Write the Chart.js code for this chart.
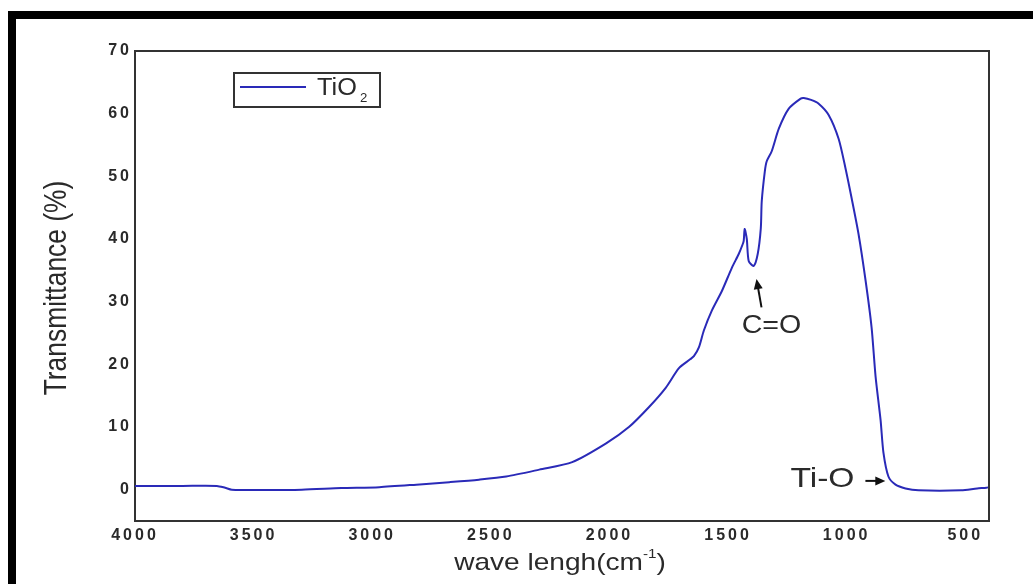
<!DOCTYPE html>
<html>
<head>
<meta charset="utf-8">
<script src="https://cdn.jsdelivr.net/npm/chart.js@4"></script>
<style>
  html, body { margin: 0; padding: 0; background: #fff; }
  #wrap { position: relative; width: 1033px; height: 584px; }
</style>
</head>
<body>
<div id="wrap"><canvas id="c" width="1033" height="584"></canvas></div>
<script>
// ---- data ----
const wavenumbers = [4000, 3800, 3655, 3620, 3592, 3450, 3297, 3130, 2970, 2814, 2675, 2550, 2435, 2296, 2157, 2014, 1918, 1833, 1762, 1707, 1660, 1644, 1623, 1602, 1568, 1526, 1484, 1455, 1440, 1434, 1430, 1421, 1413, 1392, 1375, 1362, 1358, 1345, 1337, 1316, 1286, 1244, 1194, 1181, 1150, 1118, 1076, 1034, 1005, 979, 950, 920, 895, 878, 857, 845, 824, 794, 752, 697, 517, 450, 411, 400];
const transmittance = [0.6, 0.6, 0.6, 0.3, 0.0, -0.05, 0.0, 0.25, 0.4, 0.8, 1.2, 1.6, 2.1, 3.2, 4.4, 7.4, 10.0, 13.2, 16.3, 19.4, 20.8, 21.3, 22.7, 25.4, 28.6, 31.7, 35.4, 37.6, 39.0, 39.7, 41.6, 40.0, 36.5, 35.7, 37.6, 41.7, 46.0, 50.8, 52.4, 54.0, 57.6, 60.8, 62.4, 62.5, 62.2, 61.6, 59.8, 56.0, 51.3, 46.5, 40.8, 33.3, 25.9, 18.0, 11.1, 5.9, 2.1, 0.8, 0.2, -0.1, -0.1, 0.2, 0.3, 0.4];
const xTickValues = [500, 1000, 1500, 2000, 2500, 3000, 3500, 4000];
const yTickValues = [0, 10, 20, 30, 40, 50, 60, 70];
const seriesName = 'TiO';
const seriesSub = '2';
const xTitle = 'wave lengh(cm';
const xTitleSup = '-1';
const yTitle = 'Transmittance (%)';
// annotation anchors in data coordinates
const coLabel = { text: 'C=O', x: 1317, y: 26.1, tail: [1359, 29.1], head: [1380, 33.6] };
const tioLabel = { text: 'Ti-O', x: 1102, y: 1.7, tail: [921, 1.4], head: [837, 1.4] };

const LINE_COLOR = '#2a2ab8';
const TEXT_COLOR = '#2a2a2a';

function drawStretched(ctx, parts, cx, cy, sx, sy, rot) {
  ctx.save();
  ctx.translate(cx, cy);
  if (rot) ctx.rotate(rot);
  ctx.scale(sx, sy);
  let total = 0;
  for (const p of parts) { ctx.font = p.font; total += ctx.measureText(p.t).width; }
  let x = -total / 2;
  ctx.textBaseline = 'middle';
  ctx.textAlign = 'left';
  ctx.fillStyle = TEXT_COLOR;
  for (const p of parts) {
    ctx.font = p.font;
    ctx.fillText(p.t, x, p.dy || 0);
    x += ctx.measureText(p.t).width;
  }
  ctx.restore();
}

function arrow(ctx, x1, y1, x2, y2) {
  const ang = Math.atan2(y2 - y1, x2 - x1);
  ctx.save();
  ctx.strokeStyle = '#111';
  ctx.fillStyle = '#111';
  ctx.lineWidth = 2;
  ctx.beginPath();
  ctx.moveTo(x1, y1);
  ctx.lineTo(x2 - 6 * Math.cos(ang), y2 - 6 * Math.sin(ang));
  ctx.stroke();
  ctx.translate(x2, y2);
  ctx.rotate(ang);
  ctx.beginPath();
  ctx.moveTo(0, 0);
  ctx.lineTo(-10, -4.5);
  ctx.lineTo(-10, 4.5);
  ctx.closePath();
  ctx.fill();
  ctx.restore();
}

const decorPlugin = {
  id: 'decor',
  beforeDraw(chart) {
    const ctx = chart.ctx;
    ctx.save();
    ctx.fillStyle = '#000';
    ctx.fillRect(8, 11, 8, 584 - 11);
    ctx.fillRect(8, 11, 1033 - 8, 8);
    ctx.restore();
    ctx.letterSpacing = '3px';
  },
  beforeDatasetsDraw(chart) {
    chart.ctx.letterSpacing = '0px';
  },
  afterDraw(chart) {
    const ctx = chart.ctx;
    ctx.letterSpacing = '0px';
    const a = chart.chartArea;
    const xs = chart.scales.x, ys = chart.scales.y;
    // top and right frame lines
    ctx.save();
    ctx.strokeStyle = '#333';
    ctx.lineWidth = 2;
    ctx.beginPath();
    ctx.moveTo(a.left, a.top);
    ctx.lineTo(a.right, a.top);
    ctx.lineTo(a.right, a.bottom);
    ctx.stroke();
    ctx.restore();

    // legend box
    ctx.save();
    ctx.strokeStyle = '#333';
    ctx.lineWidth = 2;
    ctx.strokeRect(234, 73, 146, 34);
    ctx.strokeStyle = LINE_COLOR;
    ctx.lineWidth = 2;
    ctx.beginPath();
    ctx.moveTo(240, 87);
    ctx.lineTo(306, 87);
    ctx.stroke();
    ctx.fillStyle = TEXT_COLOR;
    ctx.textBaseline = 'alphabetic';
    ctx.font = '23px "Liberation Sans", Arial, sans-serif';
    ctx.save();
    ctx.translate(317, 95);
    ctx.scale(1.1, 1);
    ctx.fillText(seriesName, 0, 0);
    const w = ctx.measureText(seriesName).width;
    ctx.font = '12px "Liberation Sans", Arial, sans-serif';
    ctx.fillText(seriesSub, w + 3, 7);
    ctx.restore();
    ctx.restore();

    // axis titles
    drawStretched(ctx, [{ t: yTitle, font: '24px "Liberation Sans", Arial, sans-serif' }], 57, 288, 1.1, 1.3, -Math.PI / 2);
    drawStretched(ctx, [
      { t: xTitle, font: '24px "Liberation Sans", Arial, sans-serif' },
      { t: xTitleSup, font: '13px "Liberation Sans", Arial, sans-serif', dy: -9 },
      { t: ')', font: '24px "Liberation Sans", Arial, sans-serif' }
    ], 560, 563, 1.17, 1.0, 0);

    // annotations
    drawStretched(ctx, [{ t: coLabel.text, font: '26px "Liberation Sans", Arial, sans-serif' }],
      xs.getPixelForValue(coLabel.x), ys.getPixelForValue(coLabel.y), 1.1, 1, 0);
    arrow(ctx, xs.getPixelForValue(coLabel.tail[0]), ys.getPixelForValue(coLabel.tail[1]),
      xs.getPixelForValue(coLabel.head[0]), ys.getPixelForValue(coLabel.head[1]));
    drawStretched(ctx, [{ t: tioLabel.text, font: '28px "Liberation Sans", Arial, sans-serif' }],
      xs.getPixelForValue(tioLabel.x), ys.getPixelForValue(tioLabel.y), 1.2, 1, 0);
    arrow(ctx, xs.getPixelForValue(tioLabel.tail[0]), ys.getPixelForValue(tioLabel.tail[1]),
      xs.getPixelForValue(tioLabel.head[0]), ys.getPixelForValue(tioLabel.head[1]));
  }
};

const points = wavenumbers.map((w, i) => ({ x: w, y: transmittance[i] }));
const tickFont = { family: '"Liberation Sans", Arial, sans-serif', size: 16, weight: 'bold' };

new Chart(document.getElementById('c'), {
  type: 'line',
  data: {
    datasets: [{
      label: seriesName + seriesSub,
      data: points,
      borderColor: LINE_COLOR,
      borderWidth: 2,
      pointRadius: 0,
      tension: 0.25,
      fill: false
    }]
  },
  options: {
    responsive: false,
    animation: false,
    devicePixelRatio: 1,
    layout: { padding: { left: 0, top: 51, right: 44, bottom: 0 } },
    plugins: { legend: { display: false }, tooltip: { enabled: false } },
    scales: {
      x: {
        type: 'linear',
        reverse: true,
        min: 400,
        max: 4000,
        afterBuildTicks: s => { s.ticks = xTickValues.map(v => ({ value: v })); },
        afterFit: s => { s.height = 63; },
        grid: { display: false, drawTicks: false },
        border: { display: true, color: '#333', width: 2 },
        ticks: { color: TEXT_COLOR, font: tickFont, padding: 5, maxRotation: 0, autoSkip: false, callback: v => String(v) }
      },
      y: {
        type: 'linear',
        min: -5,
        max: 70,
        afterBuildTicks: s => { s.ticks = yTickValues.map(v => ({ value: v })); },
        afterFit: s => { s.width = 135; },
        grid: { display: false, drawTicks: false },
        border: { display: true, color: '#333', width: 2 },
        ticks: { color: TEXT_COLOR, font: tickFont, padding: 3, autoSkip: false, callback: v => String(v) }
      }
    }
  },
  plugins: [decorPlugin]
});
</script>
</body>
</html>
